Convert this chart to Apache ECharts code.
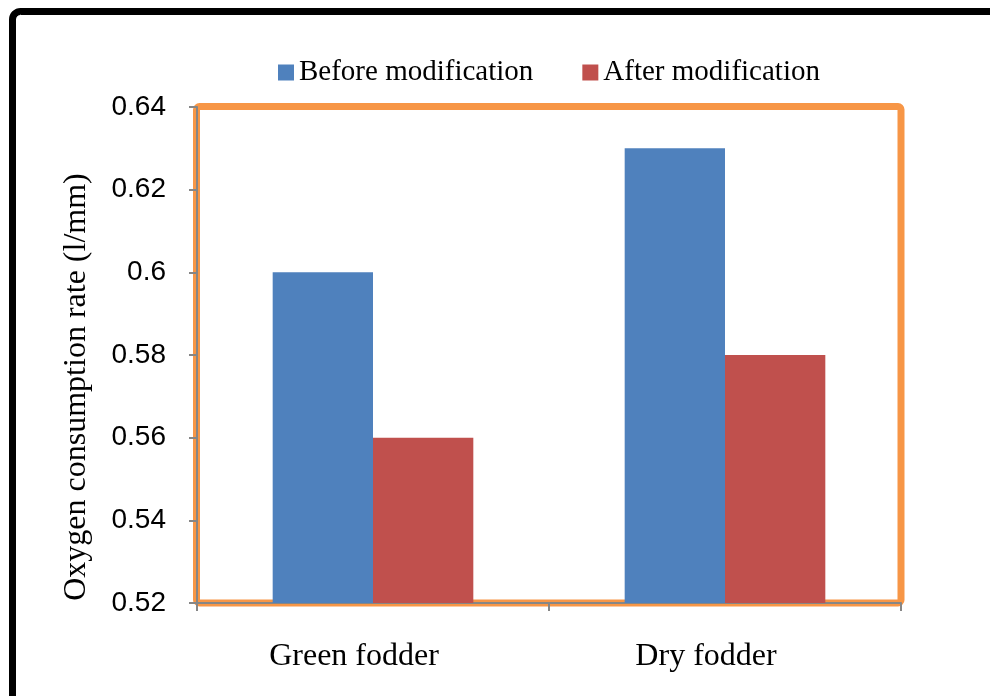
<!DOCTYPE html>
<html>
<head>
<meta charset="utf-8">
<script src="https://cdn.jsdelivr.net/npm/echarts@6/dist/echarts.min.js"></script>
<style>
  html, body { margin: 0; padding: 0; background: #fff; }
  #chart { width: 990px; height: 696px; }
</style>
</head>
<body>
<div id="chart"></div>
<script>
// Oxygen consumption rate by fodder type, before and after modification
const categories = ['Green fodder', 'Dry fodder'];
const beforeValues = [0.60, 0.63];
const afterValues = [0.56, 0.58];
const seriesNames = ['Before modification', 'After modification'];
const yTitle = 'Oxygen consumption rate (l/mm)';

const serif = '"Liberation Serif", "Times New Roman", serif';
const sans = '"Liberation Sans", Arial, sans-serif';
const axisGray = '#868686';

const chart = echarts.init(document.getElementById('chart'), null, { renderer: 'canvas' });

chart.setOption({
  animation: false,
  backgroundColor: '#ffffff',
  graphic: [
    {
      // frame along the left and top edges
      type: 'rect',
      z: 0,
      shape: { x: 12.5, y: 11.5, width: 1200, height: 1000, r: 8 },
      style: { fill: 'none', stroke: '#000', lineWidth: 7 }
    },
    {
      // orange outline around the plot area
      type: 'rect',
      z: 0,
      shape: { x: 196.5, y: 106.5, width: 704.5, height: 496.5, r: 3 },
      style: { fill: 'none', stroke: '#F79646', lineWidth: 7 }
    },
    {
      // vertical axis title
      type: 'text',
      z: 5,
      x: 77,
      y: 387,
      rotation: Math.PI / 2,
      style: {
        text: yTitle,
        font: '32px ' + serif,
        fill: '#000',
        align: 'center',
        verticalAlign: 'middle'
      }
    }
  ],
  legend: {
    left: 273,
    top: 53,
    itemWidth: 16,
    itemHeight: 16,
    itemGap: 49,
    icon: 'rect',
    textStyle: { fontFamily: serif, fontSize: 29, color: '#000' },
    data: seriesNames
  },
  grid: {
    left: 197,
    right: 89,
    top: 107,
    bottom: 93,
    containLabel: false
  },
  xAxis: {
    type: 'category',
    data: categories,
    boundaryGap: true,
    axisLine: { show: true, lineStyle: { color: axisGray, width: 2 } },
    axisTick: { show: true, alignWithLabel: false, inside: false, length: 8, lineStyle: { color: axisGray, width: 2 } },
    axisLabel: { fontFamily: serif, fontSize: 32, color: '#000', margin: 38, padding: [0, 38, 0, 0] },
    splitLine: { show: false }
  },
  yAxis: {
    type: 'value',
    min: 0.52,
    max: 0.64,
    interval: 0.02,
    axisLine: { show: true, lineStyle: { color: axisGray, width: 2 } },
    axisTick: { show: true, inside: false, length: 8, lineStyle: { color: axisGray, width: 2 } },
    axisLabel: { fontFamily: sans, fontSize: 28, color: '#000', margin: 31 },
    splitLine: { show: false }
  },
  series: [
    {
      name: seriesNames[0],
      type: 'bar',
      data: beforeValues,
      barGap: '0%',
      barCategoryGap: '43%',
      itemStyle: { color: '#4F81BD' }
    },
    {
      name: seriesNames[1],
      type: 'bar',
      data: afterValues,
      itemStyle: { color: '#C0504D' }
    }
  ]
});
</script>
</body>
</html>
